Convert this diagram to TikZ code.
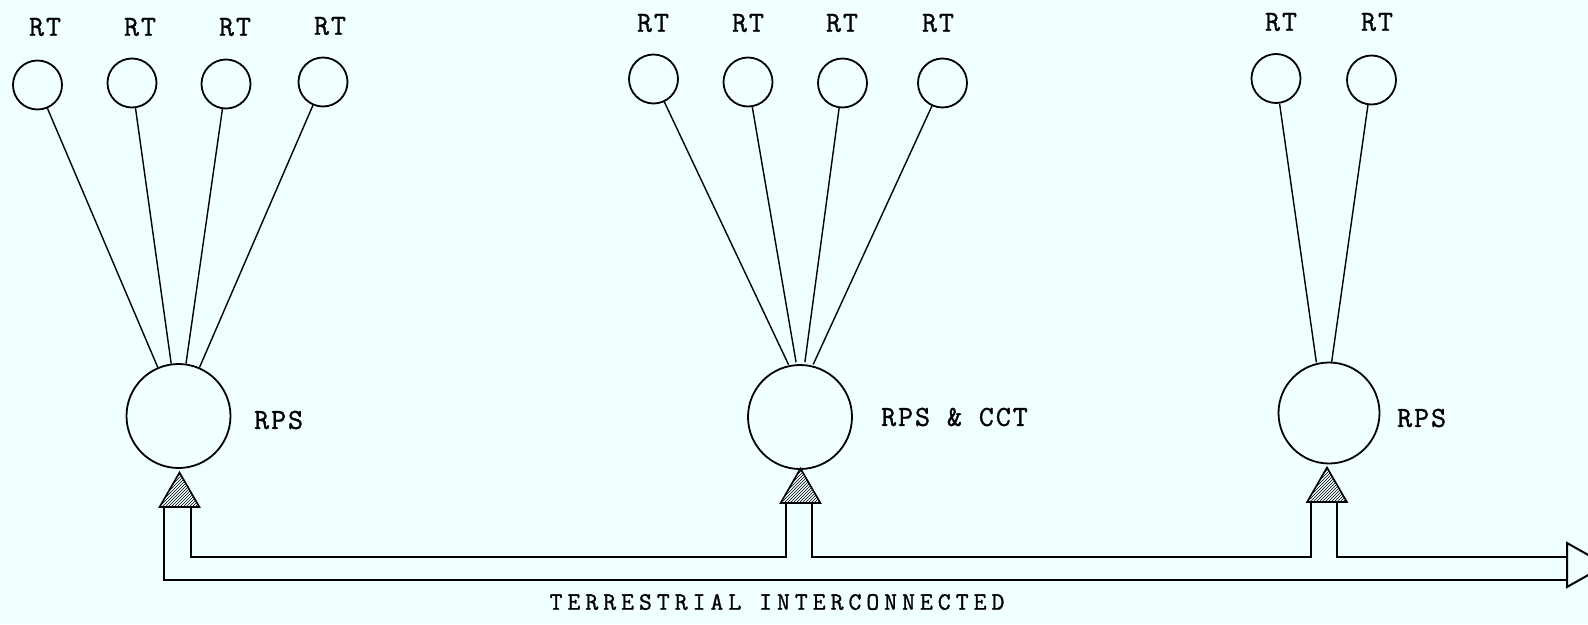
\documentclass[tikz,border=0pt]{standalone}
\usepackage{fontspec}
\usetikzlibrary{shapes.geometric,patterns}
\definecolor{bg}{HTML}{F0FFFF}
\newfontfamily\lblfont[LetterSpace=7,FakeBold=1.2]{Latin Modern Mono}
\newfontfamily\widefont[LetterSpace=20,FakeBold=1.2]{Latin Modern Mono}
\begin{document}
\begin{tikzpicture}[x=1pt,y=-1pt,
  rt/.style={circle,draw,line width=1.8pt,minimum size=49pt,inner sep=0pt},
  hub/.style={circle,draw,line width=1.8pt,minimum size=104pt,inner sep=0pt},
  aim/.style={circle,inner sep=0pt},
  lbl/.style={inner sep=0pt,font=\fontsize{29}{31}\lblfont},
  tri/.style={regular polygon,regular polygon sides=3,minimum size=46pt,inner sep=0pt,draw,line width=1.6pt,pattern=north east lines},
  link/.style={line width=1.4pt},
  pipe/.style={line width=1.8pt},
]
\clip (0,0) rectangle (1588,624);
\fill[bg] (0,0) rectangle (1588,624);

% left group
\node[rt] (a1) at (37.5,85) {};
\node[rt] (a2) at (132,83) {};
\node[rt] (a3) at (226,84) {};
\node[rt] (a4) at (323,82) {};
\node[lbl] at (45,27) {RT};
\node[lbl] at (140,27) {RT};
\node[lbl] at (235,27) {RT};
\node[lbl] at (330,26) {RT};
\node[hub] (h1) at (178.5,416) {};
\node[lbl,anchor=west] at (254,420) {RPS};
\foreach \i in {1,...,4} \draw[link] (a\i) -- (h1);

% middle group
\node[rt] (b1) at (653.5,79) {};
\node[rt] (b2) at (748,82) {};
\node[rt] (b3) at (842.5,83) {};
\node[rt] (b4) at (942.5,83) {};
\node[lbl] at (653,23) {RT};
\node[lbl] at (748,23) {RT};
\node[lbl] at (842,23) {RT};
\node[lbl] at (938,23) {RT};
\node[hub] (h2) at (800,417) {};
\node[aim,minimum size=58pt] (h2f) at (801,391) {};
\node[lbl,anchor=west] at (881,417) {RPS \& CCT};
\foreach \i in {1,...,4} \draw[link] (b\i) -- (h2f);

% right group
\node[rt] (c1) at (1276,78.5) {};
\node[rt] (c2) at (1371.5,80) {};
\node[lbl] at (1281,22) {RT};
\node[lbl] at (1377,22) {RT};
\node[hub,minimum size=101pt] (h3) at (1329,413) {};
\node[aim,minimum size=108pt] (h3f) at (1324,416) {};
\node[lbl,anchor=west] at (1397,418) {RPS};
\foreach \i in {1,2} \draw[link] (c\i) -- (h3f);

% interconnection points
\node[tri] (t1) at (179.5,495.5) {};
\node[tri] (t2) at (800.5,491.5) {};
\node[tri] (t3) at (1327,490.5) {};

% outgoing arrow
\coordinate (ar) at (1567,568);
\draw[line width=2pt,line join=miter] (1567,543) -- (1606,565) -- (1567,587) -- cycle;

% double-line interconnection
\draw[pipe] ([xshift=-15.5pt]t1.south) -- (164,580) -- (ar |- 0,580);
\draw[pipe] ([xshift=11.5pt]t1.south) -- (191,557) -- (786,557) -- ([xshift=-14.5pt]t2.south);
\draw[pipe] ([xshift=11.5pt]t2.south) -- (812,557) -- (1311,557) -- ([xshift=-16pt]t3.south);
\draw[pipe] ([xshift=10pt]t3.south) -- (1337,557) -- (ar |- 0,557);

\node[inner sep=0pt,font=\fontsize{25}{27}\widefont] (lab) at (777,602) {TERRESTRIAL INTERCONNECTED};
\end{tikzpicture}
\end{document}
